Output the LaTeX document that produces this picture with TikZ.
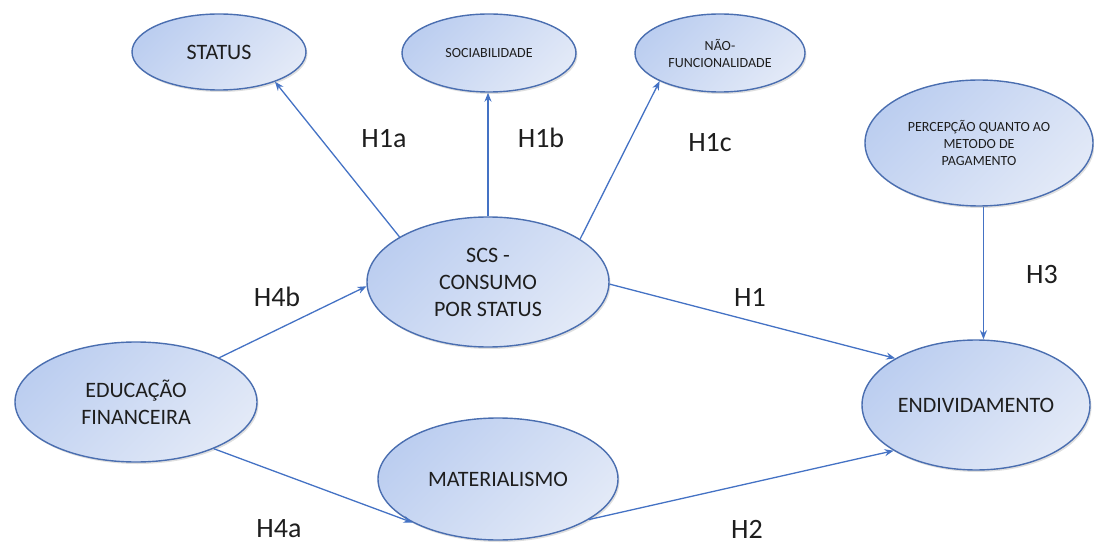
\documentclass[tikz,border=0pt]{standalone}
\usepackage{fontspec}
\setmainfont{Carlito}
\usetikzlibrary{shapes.geometric,arrows.meta,shadows,calc}
\definecolor{elldark}{HTML}{BCCEF0}
\definecolor{elllight}{HTML}{E2E9F7}
\definecolor{ellborder}{HTML}{4A6EB0}
\definecolor{arrowblue}{HTML}{4472C4}
\definecolor{txt}{HTML}{1E1E1E}
\begin{document}
\begin{tikzpicture}[x=1pt,y=-1pt,
  ell/.style={ellipse, draw=ellborder, line width=1.4pt, top color=elldark,
    bottom color=elllight, shading angle=45, inner sep=0pt, align=center, text=txt,
    drop shadow={shadow xshift=1.5pt, shadow yshift=-2pt, opacity=0.25, fill=gray}},
  big/.style={font=\fontsize{22}{27}\selectfont},
  small/.style={font=\fontsize{14}{17}\selectfont},
  hyp/.style={font=\fontsize{28}{30}\selectfont, text=txt, inner sep=0pt},
  arr/.style={draw=arrowblue, line width=1.3pt, -{Stealth[length=9pt,width=7pt]}}]
\useasboundingbox (0,0) rectangle (1094,545);

\node[ell, big, minimum width=174pt, minimum height=76pt] (status) at (219,52) {STATUS};
\node[ell, small, minimum width=174pt, minimum height=78pt] (soc) at (489,53) {SOCIABILIDADE};
\node[ell, small, minimum width=170pt, minimum height=78pt] (nao) at (720,53) {NÃO-\\FUNCIONALIDADE};
\node[ell, small, minimum width=228pt, minimum height=126pt] (perc) at (979,143) {PERCEPÇÃO QUANTO AO\\METODO DE\\PAGAMENTO};
\node[ell, big, minimum width=242pt, minimum height=130pt] (scs) at (488,282) {SCS -\\CONSUMO\\POR STATUS};
\node[ell, big, minimum width=242pt, minimum height=120pt] (educ) at (136,402) {EDUCAÇÃO\\FINANCEIRA};
\node[ell, big, minimum width=240pt, minimum height=122pt] (mat) at (498,479) {MATERIALISMO};
\node[ell, big, minimum width=228pt, minimum height=130pt] (endiv) at (976,405) {ENDIVIDAMENTO};

\draw[arr] (scs.153) -- (status.-28);
\draw[arr] (scs.north) -- (scs.north |- soc.south);
\draw[arr] (scs.25) -- (nao.205);
\draw[arr] (educ.28) -- (scs.182);
\draw[arr] (scs.-1) -- (endiv.150);
\draw[arr] (educ.-31) -- (mat.207);
\draw[arr] (mat.-24) -- (endiv.209);
\draw[arr] (perc.-86) -- (perc.-86 |- endiv.north);

\node[hyp] (h1a) at (384,139) {H1a};
\node[hyp] (h1b) at (541,138) {H1b};
\node[hyp] (h1c) at (710,143) {H1c};
\node[hyp] (h4b) at (277,297) {H4b};
\node[hyp] (h1) at (750,297) {H1};
\node[hyp] (h3) at (1042,275) {H3};
\node[hyp] (h4a) at (279,529) {H4a};
\node[hyp] (h2) at (747,529) {H2};
\end{tikzpicture}
\end{document}
